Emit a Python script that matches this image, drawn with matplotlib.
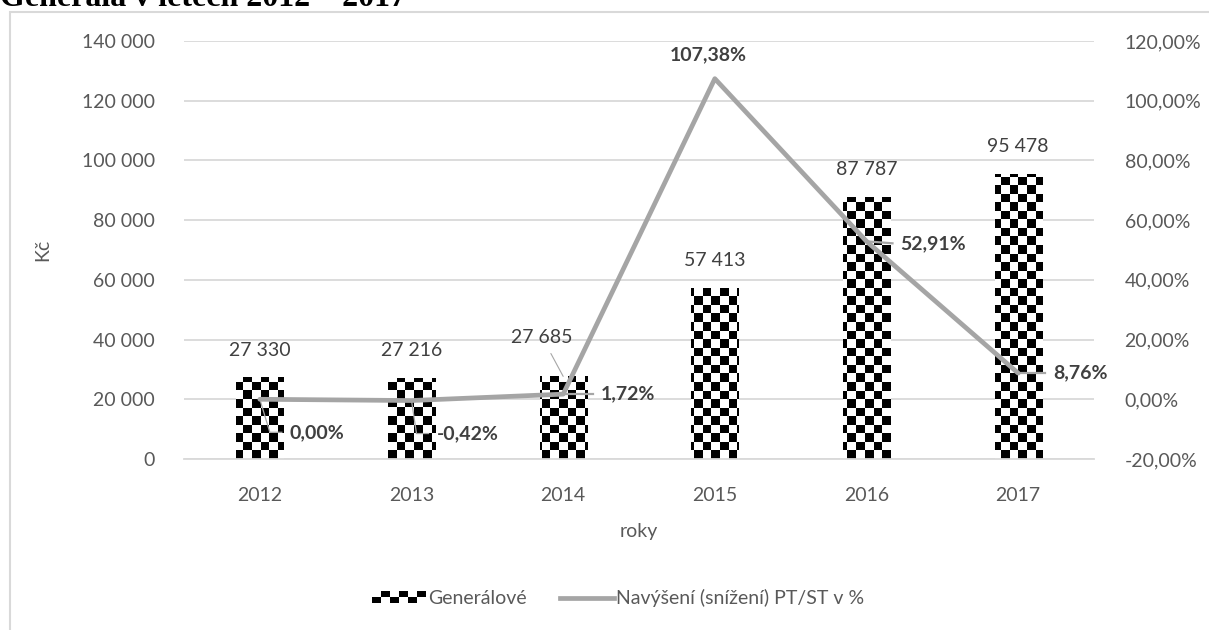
import matplotlib
matplotlib.use("Agg")
import matplotlib.pyplot as plt
import numpy as np
from matplotlib.patches import Rectangle
from matplotlib.lines import Line2D
from matplotlib.legend_handler import HandlerBase
from matplotlib.ticker import FuncFormatter, MultipleLocator

years = ["2012", "2013", "2014", "2015", "2016", "2017"]
generalove = [27330, 27216, 27685, 57413, 87787, 95478]
navyseni = [0.00, -0.42, 1.72, 107.38, 52.91, 8.76]

bar_label = "Generálové"
line_label = "Navýšení (snížení) PT/ST v %"
title = "Generála v letech 2012 – 2017"

plt.rcParams['font.family'] = ['Lato', 'DejaVu Sans']
W, H = 1209, 630
fig = plt.figure(figsize=(W / 100, H / 100), dpi=100)

ax = fig.add_axes([184 / W, 1 - 459 / H, (1094 - 184) / W, (459 - 41) / H])
ax2 = ax.twinx()

TICK_C = '#595959'
LAB_C = '#404040'
GRID_C = '#D9D9D9'
LINE_C = '#A5A5A5'
FS = 14

x = np.arange(len(years))
bars = ax.bar(x, generalove, width=0.31, color='none', edgecolor='none', zorder=2)

# checkerboard fill clipped to bars
cell_px = 8.5
ncols = int(round((1094 - 184) / cell_px))
nrows = int(round((459 - 41) / cell_px))
checker = (np.add.outer(np.arange(nrows), np.arange(ncols)) % 2).astype(float)
for b in bars:
    im = ax.imshow(checker, cmap='gray', vmin=0, vmax=1, interpolation='nearest',
                   extent=(0, 1, 0, 1), transform=ax.transAxes, aspect='auto', zorder=2)
    im.set_clip_path(b)

ax.set_xlim(-0.5, len(years) - 0.5)
ax.set_ylim(0, 140000)
ax.yaxis.set_major_locator(MultipleLocator(20000))
ax.yaxis.set_major_formatter(FuncFormatter(lambda v, p: f"{int(v):,}".replace(",", " ")))
ax.set_xticks(x)
ax.set_xticklabels(years)
ax.grid(axis='y', color=GRID_C, linewidth=1.3)
ax.set_axisbelow(True)
for s in ['top', 'right', 'left']:
    ax.spines[s].set_visible(False)
ax.spines['bottom'].set_color(GRID_C)
ax.spines['bottom'].set_linewidth(1.3)
ax.tick_params(axis='both', length=0, labelsize=FS, labelcolor=TICK_C)
ax.tick_params(axis='x', pad=20)
ax.tick_params(axis='y', pad=21)
ax.set_ylabel("Kč", fontsize=FS, color=TICK_C, labelpad=22)
ax.set_xlabel("roky", fontsize=FS, color=TICK_C, labelpad=14)

# value labels above bars
for i, v in enumerate(generalove):
    txt = f"{v:,}".replace(",", " ")
    if i == 2:
        ax.annotate(txt, xy=(i, v), xytext=(-21, 39), textcoords='offset pixels',
                    ha='center', va='center', fontsize=FS, color=LAB_C,
                    arrowprops=dict(arrowstyle='-', color='#A6A6A6', lw=0.8,
                                    shrinkA=4, shrinkB=0))
    else:
        ax.annotate(txt, xy=(i, v), xytext=(0, 27), textcoords='offset pixels',
                    ha='center', va='center', fontsize=FS, color=LAB_C)

# line on secondary axis
ax2.plot(x, navyseni, color=LINE_C, linewidth=3.4, solid_capstyle='round', zorder=3)
ax2.set_ylim(-20, 120)
ax2.yaxis.set_major_locator(MultipleLocator(20))
ax2.yaxis.set_major_formatter(FuncFormatter(lambda v, p: f"{v:.2f}%".replace(".", ",")))
for s in ax2.spines.values():
    s.set_visible(False)
ax2.tick_params(axis='y', length=0, labelsize=FS, labelcolor=TICK_C, pad=22)

def pct(v):
    return f"{v:.2f}%".replace(".", ",")

def pix_to_data(axis, dx, dy, xd, yd):
    disp = axis.transData.transform((xd, yd))
    return axis.transData.inverted().transform((disp[0] + dx, disp[1] + dy))

# percent labels with leader lines (offsets in pixels)
offsets = {0: (30, -33, 'down'), 1: (25, -33, 'down'), 2: (38, 0, 'right'),
           3: (-7, 24, 'top'), 4: (34, -2, 'right'), 5: (35, 0, 'right')}
for i, v in enumerate(navyseni):
    dx, dy, kind = offsets[i]
    if kind == 'top':
        ax2.annotate(pct(v), xy=(i, v), xytext=(dx, dy), textcoords='offset pixels',
                     ha='center', va='center', fontsize=FS, fontweight='bold', color=LAB_C)
        continue
    ax2.annotate(pct(v), xy=(i, v), xytext=(dx, dy), textcoords='offset pixels',
                 ha='left', va='center', fontsize=FS, fontweight='bold', color=LAB_C)
    if kind == 'down':
        p1 = pix_to_data(ax2, dx - 20, dy, i, v)
        p2 = pix_to_data(ax2, dx - 8, dy, i, v)
        ax2.plot([i, p1[0], p2[0]], [v, p1[1], p2[1]], color='#A6A6A6', lw=0.9, zorder=4)
    else:
        p2 = pix_to_data(ax2, dx - 8, dy, i, v)
        ax2.plot([i, p2[0]], [v, p2[1]], color='#A6A6A6', lw=1.6, zorder=4)

# legend with checker handle
class CheckerHandler(HandlerBase):
    def create_artists(self, legend, orig_handle, xdescent, ydescent, width, height, fontsize, trans):
        arts = []
        ncol, nrow = 6, 2
        w = width / ncol
        h = height / nrow
        for r in range(nrow):
            for c in range(ncol):
                col = 'black' if (r + c) % 2 == 0 else 'white'
                arts.append(Rectangle((-xdescent + c * w, -ydescent + r * h), w, h,
                                      facecolor=col, edgecolor='none', transform=trans))
        return arts

bar_proxy = Rectangle((0, 0), 1, 1)
line_proxy = Line2D([0], [0], color=LINE_C, linewidth=3.4)
fig.legend([bar_proxy, line_proxy], [bar_label, line_label], loc='center',
           bbox_to_anchor=(618 / W, 1 - 598 / H), ncol=2, frameon=False,
           fontsize=FS, labelcolor=TICK_C, handlelength=2.8, handleheight=0.6,
           handletextpad=0.1, columnspacing=1.7, handler_map={Rectangle: CheckerHandler()})

# chart frame
fig.patches.append(Rectangle((10 / W, -0.1), 1.2, 1 - 12 / H + 0.1, transform=fig.transFigure,
                             fill=False, edgecolor=GRID_C, linewidth=1.5))

# title (cut at top as in reference)
fig.text(0 / W, 1 - 6 / H, title, ha='left', va='baseline', fontsize=23,
         fontweight='bold', family=['Liberation Serif', 'DejaVu Serif'], color='black')

fig.savefig("out.png", dpi=100)
